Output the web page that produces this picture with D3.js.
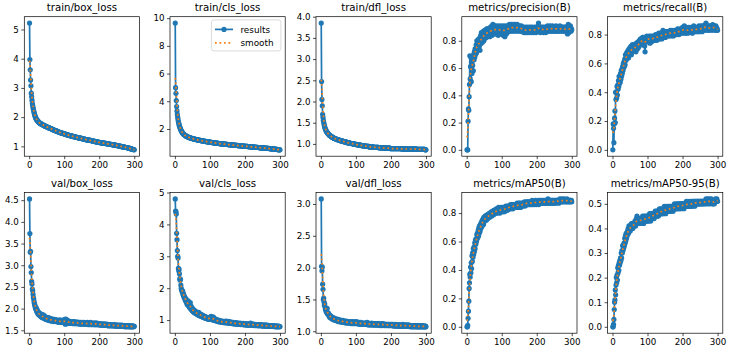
<!DOCTYPE html>
<html>
<head>
<meta charset="utf-8">
<script src="https://cdn.jsdelivr.net/npm/d3@7"></script>
<style>
  body { margin: 0; background: #fff; }
  svg { font-family: "DejaVu Sans", sans-serif; display: block; }
</style>
</head>
<body>
<div id="chart"></div>
<script>

// ---- data: one value per epoch (1..300) ----

var titles = ["train/box_loss", "train/cls_loss", "train/dfl_loss", "metrics/precision(B)", "metrics/recall(B)",
              "val/box_loss", "val/cls_loss", "val/dfl_loss", "metrics/mAP50(B)", "metrics/mAP50-95(B)"];

var xTickLabels = ["0", "100", "200", "300"];

var yTickLabels = [
  ["1", "2", "3", "4", "5"],
  ["2", "4", "6", "8", "10"],
  ["1.0", "1.5", "2.0", "2.5", "3.0", "3.5", "4.0"],
  ["0.0", "0.2", "0.4", "0.6", "0.8"],
  ["0.0", "0.2", "0.4", "0.6", "0.8"],
  ["1.5", "2.0", "2.5", "3.0", "3.5", "4.0", "4.5"],
  ["1", "2", "3", "4", "5"],
  ["1.0", "1.5", "2.0", "2.5", "3.0"],
  ["0.0", "0.2", "0.4", "0.6", "0.8"],
  ["0.0", "0.1", "0.2", "0.3", "0.4", "0.5"]
];

var trainBox = [
  5.22,3.97,3.62,3.27,3.07,2.82,2.70,2.58,2.47,2.40,2.33,2.27,2.21,2.16,2.11,2.07,2.03,2.00,1.97,1.94,
  1.92,1.90,1.89,1.87,1.86,1.85,1.83,1.82,1.81,1.80,1.79,1.78,1.78,1.77,1.76,1.75,1.75,1.74,1.74,1.73,
  1.72,1.72,1.71,1.70,1.70,1.69,1.68,1.68,1.67,1.67,1.66,1.66,1.65,1.65,1.64,1.64,1.63,1.63,1.62,1.62,
  1.61,1.61,1.60,1.60,1.59,1.58,1.58,1.57,1.57,1.56,1.56,1.55,1.55,1.54,1.54,1.53,1.53,1.52,1.52,1.51,
  1.51,1.50,1.50,1.49,1.49,1.48,1.48,1.47,1.47,1.47,1.46,1.46,1.45,1.45,1.45,1.44,1.44,1.44,1.43,1.43,
  1.42,1.42,1.42,1.41,1.41,1.41,1.40,1.40,1.39,1.39,1.39,1.38,1.38,1.38,1.37,1.37,1.37,1.36,1.36,1.36,
  1.35,1.35,1.35,1.34,1.34,1.34,1.33,1.33,1.33,1.33,1.32,1.32,1.32,1.31,1.31,1.31,1.31,1.30,1.30,1.30,
  1.29,1.29,1.29,1.28,1.28,1.28,1.28,1.27,1.27,1.27,1.26,1.26,1.26,1.26,1.25,1.25,1.25,1.25,1.24,1.24,
  1.24,1.23,1.23,1.23,1.23,1.22,1.22,1.22,1.22,1.21,1.21,1.21,1.21,1.20,1.20,1.20,1.20,1.19,1.19,1.19,
  1.18,1.18,1.18,1.18,1.17,1.17,1.17,1.17,1.16,1.16,1.16,1.16,1.15,1.15,1.15,1.15,1.14,1.14,1.14,1.14,
  1.13,1.13,1.13,1.13,1.12,1.12,1.12,1.12,1.12,1.11,1.11,1.11,1.11,1.11,1.10,1.10,1.10,1.10,1.10,1.09,
  1.09,1.09,1.09,1.09,1.08,1.08,1.08,1.08,1.08,1.07,1.07,1.07,1.07,1.07,1.06,1.06,1.06,1.06,1.06,1.05,
  1.05,1.05,1.05,1.04,1.04,1.04,1.04,1.03,1.03,1.03,1.03,1.02,1.02,1.02,1.02,1.01,1.01,1.01,1.01,1.00,
  1.00,1.00,1.00,0.99,0.99,0.99,0.99,0.98,0.98,0.98,0.98,0.97,0.97,0.97,0.97,0.96,0.96,0.96,0.96,0.95,
  0.95,0.95,0.94,0.94,0.94,0.93,0.93,0.93,0.92,0.92,0.92,0.91,0.91,0.90,0.90,0.90,0.89,0.89,0.89,0.88
];

var trainCls = [
  9.65,4.98,4.58,4.05,3.62,3.30,3.05,2.85,2.68,2.54,2.42,2.31,2.22,2.14,2.06,2.00,1.94,1.88,1.83,1.79,
  1.75,1.71,1.68,1.65,1.62,1.60,1.58,1.56,1.54,1.52,1.50,1.49,1.47,1.46,1.45,1.44,1.42,1.41,1.40,1.39,
  1.38,1.37,1.36,1.35,1.35,1.34,1.33,1.32,1.31,1.31,1.30,1.29,1.28,1.28,1.27,1.26,1.26,1.25,1.25,1.24,
  1.23,1.23,1.22,1.22,1.21,1.20,1.20,1.19,1.19,1.18,1.18,1.17,1.17,1.16,1.16,1.15,1.15,1.14,1.14,1.13,
  1.13,1.12,1.12,1.11,1.11,1.10,1.10,1.10,1.09,1.09,1.08,1.08,1.07,1.07,1.07,1.06,1.06,1.05,1.05,1.05,
  1.04,1.04,1.03,1.03,1.03,1.02,1.02,1.01,1.01,1.01,1.00,1.00,0.99,0.99,0.99,0.98,0.98,0.98,0.97,0.97,
  0.97,0.96,0.96,0.96,0.95,0.95,0.95,0.94,0.94,0.94,0.93,0.93,0.93,0.92,0.92,0.92,0.91,0.91,0.91,0.91,
  0.90,0.90,0.90,0.89,0.89,0.89,0.89,0.88,0.88,0.88,0.87,0.87,0.87,0.87,0.86,0.86,0.86,0.86,0.85,0.85,
  0.85,0.85,0.84,0.84,0.84,0.84,0.83,0.83,0.83,0.83,0.82,0.82,0.82,0.82,0.81,0.81,0.81,0.81,0.80,0.80,
  0.80,0.80,0.79,0.79,0.79,0.79,0.78,0.78,0.78,0.78,0.77,0.77,0.77,0.77,0.76,0.76,0.76,0.76,0.75,0.75,
  0.75,0.75,0.74,0.74,0.74,0.74,0.74,0.73,0.73,0.73,0.73,0.72,0.72,0.72,0.72,0.71,0.71,0.71,0.71,0.70,
  0.70,0.70,0.70,0.69,0.69,0.69,0.69,0.69,0.68,0.68,0.68,0.68,0.67,0.67,0.67,0.67,0.66,0.66,0.66,0.66,
  0.65,0.65,0.65,0.65,0.64,0.64,0.64,0.64,0.63,0.63,0.63,0.63,0.62,0.62,0.62,0.62,0.61,0.61,0.61,0.61,
  0.60,0.60,0.60,0.60,0.59,0.59,0.59,0.59,0.58,0.58,0.58,0.58,0.57,0.57,0.57,0.57,0.56,0.56,0.56,0.56,
  0.55,0.55,0.55,0.54,0.54,0.54,0.53,0.53,0.53,0.52,0.52,0.52,0.51,0.51,0.51,0.50,0.50,0.50,0.49,0.49
];

var trainDfl = [
  3.85,2.47,2.05,1.90,1.70,1.63,1.56,1.51,1.47,1.43,1.40,1.37,1.35,1.33,1.31,1.29,1.28,1.27,1.26,1.25,
  1.24,1.23,1.22,1.21,1.20,1.20,1.19,1.18,1.18,1.17,1.17,1.16,1.16,1.15,1.15,1.14,1.14,1.13,1.13,1.13,
  1.12,1.12,1.12,1.11,1.11,1.11,1.10,1.10,1.10,1.10,1.09,1.09,1.09,1.08,1.08,1.08,1.08,1.07,1.07,1.07,
  1.07,1.06,1.06,1.06,1.06,1.05,1.05,1.05,1.05,1.05,1.04,1.04,1.04,1.04,1.03,1.03,1.03,1.03,1.03,1.02,
  1.02,1.02,1.02,1.02,1.01,1.01,1.01,1.01,1.01,1.01,1.00,1.00,1.00,1.00,1.00,0.99,0.99,0.99,0.99,0.99,
  0.99,0.98,0.98,0.98,0.98,0.98,0.98,0.97,0.97,0.97,0.97,0.97,0.97,0.97,0.96,0.96,0.96,0.96,0.96,0.96,
  0.96,0.95,0.95,0.95,0.95,0.95,0.95,0.95,0.95,0.94,0.94,0.94,0.94,0.94,0.94,0.94,0.94,0.93,0.93,0.93,
  0.93,0.93,0.93,0.93,0.93,0.93,0.93,0.93,0.93,0.92,0.92,0.92,0.92,0.92,0.92,0.92,0.92,0.92,0.92,0.92,
  0.92,0.92,0.92,0.92,0.91,0.91,0.91,0.91,0.91,0.91,0.91,0.91,0.91,0.91,0.91,0.91,0.91,0.91,0.90,0.90,
  0.90,0.90,0.90,0.90,0.90,0.90,0.90,0.90,0.90,0.90,0.90,0.90,0.90,0.90,0.90,0.90,0.90,0.89,0.89,0.89,
  0.89,0.89,0.89,0.89,0.89,0.89,0.89,0.89,0.89,0.89,0.89,0.89,0.89,0.89,0.89,0.89,0.89,0.89,0.89,0.89,
  0.89,0.89,0.89,0.89,0.89,0.89,0.89,0.89,0.89,0.89,0.88,0.88,0.88,0.88,0.88,0.88,0.88,0.88,0.88,0.88,
  0.88,0.88,0.88,0.88,0.88,0.88,0.88,0.88,0.88,0.88,0.88,0.88,0.88,0.88,0.88,0.88,0.88,0.88,0.88,0.88,
  0.88,0.88,0.88,0.88,0.88,0.88,0.88,0.88,0.88,0.88,0.88,0.88,0.88,0.87,0.87,0.87,0.87,0.87,0.87,0.87,
  0.87,0.87,0.87,0.87,0.87,0.87,0.87,0.87,0.87,0.87,0.87,0.87,0.87,0.87,0.87,0.87,0.87,0.86,0.86,0.86
];

var precision = [
  0.00,0.00,0.00,0.21,0.30,0.29,0.39,0.48,0.69,0.52,0.61,0.68,0.50,0.63,0.56,0.66,0.62,0.67,0.58,0.70,
  0.66,0.72,0.68,0.74,0.70,0.73,0.77,0.71,0.80,0.75,0.78,0.74,0.81,0.77,0.79,0.76,0.82,0.73,0.80,0.84,
  0.78,0.86,0.81,0.83,0.79,0.85,0.82,0.87,0.80,0.84,0.86,0.83,0.88,0.82,0.85,0.87,0.84,0.89,0.83,0.86,
  0.88,0.84,0.87,0.85,0.89,0.83,0.87,0.90,0.85,0.88,0.86,0.91,0.84,0.89,0.92,0.86,0.88,0.90,0.85,0.91,
  0.87,0.89,0.86,0.91,0.88,0.85,0.90,0.87,0.89,0.84,0.91,0.88,0.86,0.90,0.87,0.89,0.85,0.91,0.88,0.86,
  0.90,0.87,0.89,0.84,0.91,0.88,0.86,0.90,0.83,0.89,0.87,0.91,0.85,0.89,0.88,0.90,0.86,0.91,0.88,0.89,
  0.87,0.92,0.89,0.88,0.91,0.87,0.90,0.92,0.88,0.91,0.89,0.87,0.92,0.90,0.88,0.91,0.89,0.92,0.87,0.90,
  0.89,0.91,0.88,0.92,0.90,0.87,0.91,0.89,0.88,0.90,0.91,0.87,0.89,0.90,0.88,0.91,0.87,0.89,0.90,0.88,
  0.87,0.89,0.86,0.90,0.88,0.87,0.89,0.86,0.88,0.90,0.87,0.88,0.86,0.89,0.87,0.90,0.88,0.86,0.89,0.87,
  0.88,0.90,0.87,0.89,0.86,0.88,0.90,0.87,0.89,0.88,0.86,0.89,0.87,0.90,0.88,0.87,0.89,0.86,0.88,0.90,
  0.87,0.89,0.88,0.91,0.93,0.88,0.87,0.90,0.88,0.86,0.89,0.87,0.90,0.88,0.89,0.87,0.90,0.88,0.86,0.89,
  0.88,0.90,0.87,0.89,0.88,0.86,0.90,0.88,0.89,0.87,0.91,0.88,0.89,0.87,0.90,0.88,0.89,0.91,0.87,0.89,
  0.88,0.90,0.89,0.87,0.91,0.88,0.89,0.90,0.87,0.89,0.88,0.90,0.87,0.89,0.91,0.88,0.89,0.87,0.90,0.88,
  0.89,0.87,0.90,0.88,0.89,0.91,0.88,0.87,0.90,0.89,0.88,0.90,0.87,0.89,0.88,0.90,0.89,0.87,0.88,0.90,
  0.88,0.89,0.87,0.90,0.88,0.86,0.89,0.85,0.91,0.92,0.88,0.86,0.90,0.87,0.89,0.91,0.88,0.87,0.89,0.88
];

var recall = [
  0.00,0.18,0.15,0.05,0.18,0.22,0.27,0.19,0.40,0.35,0.40,0.36,0.44,0.38,0.45,0.42,0.48,0.44,0.51,0.46,
  0.50,0.47,0.53,0.49,0.55,0.51,0.56,0.53,0.58,0.55,0.60,0.57,0.61,0.58,0.63,0.59,0.66,0.62,0.64,0.67,
  0.63,0.68,0.65,0.66,0.69,0.64,0.70,0.66,0.68,0.71,0.67,0.69,0.72,0.66,0.70,0.68,0.73,0.69,0.71,0.70,
  0.72,0.69,0.71,0.73,0.70,0.72,0.68,0.74,0.71,0.73,0.70,0.72,0.75,0.71,0.74,0.72,0.76,0.73,0.75,0.77,
  0.74,0.76,0.73,0.77,0.75,0.78,0.74,0.76,0.78,0.75,0.77,0.72,0.68,0.76,0.78,0.75,0.77,0.79,0.76,0.78,
  0.77,0.75,0.78,0.76,0.79,0.77,0.74,0.78,0.76,0.79,0.77,0.75,0.78,0.76,0.79,0.77,0.78,0.76,0.79,0.77,
  0.78,0.76,0.80,0.77,0.79,0.78,0.76,0.80,0.78,0.77,0.79,0.81,0.78,0.80,0.77,0.79,0.81,0.78,0.80,0.79,
  0.77,0.81,0.79,0.83,0.80,0.78,0.81,0.79,0.82,0.80,0.78,0.81,0.79,0.82,0.80,0.81,0.79,0.82,0.80,0.81,
  0.79,0.82,0.80,0.81,0.83,0.80,0.82,0.79,0.81,0.83,0.80,0.82,0.81,0.79,0.82,0.80,0.83,0.81,0.82,0.80,
  0.82,0.81,0.83,0.80,0.82,0.84,0.81,0.83,0.82,0.80,0.83,0.81,0.84,0.82,0.83,0.81,0.84,0.82,0.83,0.85,
  0.82,0.84,0.83,0.81,0.86,0.83,0.82,0.84,0.81,0.83,0.85,0.82,0.84,0.83,0.81,0.84,0.82,0.85,0.83,0.82,
  0.84,0.82,0.83,0.85,0.82,0.84,0.83,0.81,0.85,0.83,0.84,0.86,0.82,0.84,0.83,0.85,0.82,0.84,0.83,0.85,
  0.83,0.84,0.82,0.85,0.84,0.83,0.86,0.82,0.84,0.85,0.83,0.84,0.86,0.83,0.85,0.82,0.84,0.86,0.83,0.85,
  0.84,0.86,0.83,0.85,0.87,0.84,0.88,0.85,0.83,0.86,0.84,0.85,0.83,0.86,0.84,0.85,0.83,0.86,0.85,0.84,
  0.85,0.83,0.86,0.84,0.85,0.87,0.84,0.86,0.83,0.85,0.86,0.84,0.85,0.83,0.86,0.84,0.85,0.83,0.84,0.83
];

var valBox = [
  4.53,3.73,3.30,3.32,2.97,2.83,2.63,2.57,2.45,2.41,2.33,2.26,2.22,2.16,2.12,2.08,2.05,2.01,1.99,2.02,
  1.95,1.93,1.97,1.90,1.91,1.87,1.92,1.86,1.88,1.84,1.89,1.83,1.86,1.81,1.85,1.80,1.83,1.79,1.86,1.80,
  1.82,1.78,1.84,1.77,1.80,1.76,1.81,1.75,1.79,1.77,1.74,1.78,1.75,1.77,1.73,1.79,1.74,1.76,1.72,1.75,
  1.73,1.77,1.72,1.75,1.71,1.74,1.76,1.72,1.74,1.70,1.73,1.75,1.71,1.74,1.72,1.70,1.73,1.71,1.74,1.70,
  1.72,1.69,1.73,1.71,1.68,1.72,1.70,1.74,1.69,1.71,1.68,1.72,1.70,1.69,1.73,1.70,1.68,1.71,1.69,1.72,
  1.75,1.70,1.64,1.72,1.76,1.68,1.71,1.65,1.70,1.73,1.67,1.69,1.71,1.66,1.70,1.68,1.67,1.70,1.66,1.69,
  1.68,1.70,1.66,1.69,1.67,1.65,1.69,1.67,1.70,1.66,1.68,1.65,1.69,1.67,1.66,1.68,1.65,1.69,1.66,1.67,
  1.68,1.65,1.67,1.64,1.68,1.66,1.65,1.67,1.64,1.68,1.66,1.65,1.67,1.64,1.66,1.68,1.65,1.67,1.64,1.66,
  1.65,1.67,1.64,1.66,1.65,1.68,1.64,1.66,1.65,1.63,1.67,1.65,1.64,1.66,1.68,1.64,1.65,1.63,1.66,1.64,
  1.66,1.64,1.65,1.67,1.63,1.65,1.64,1.66,1.63,1.65,1.67,1.64,1.63,1.65,1.64,1.66,1.63,1.64,1.65,1.63,
  1.64,1.62,1.65,1.63,1.64,1.62,1.65,1.63,1.62,1.64,1.63,1.61,1.64,1.62,1.63,1.65,1.62,1.63,1.61,1.63,
  1.62,1.64,1.61,1.63,1.62,1.60,1.63,1.62,1.61,1.63,1.62,1.60,1.62,1.61,1.63,1.61,1.62,1.60,1.62,1.61,
  1.62,1.60,1.61,1.63,1.60,1.62,1.61,1.59,1.62,1.60,1.61,1.62,1.60,1.61,1.59,1.62,1.60,1.61,1.60,1.62,
  1.60,1.61,1.59,1.60,1.62,1.60,1.59,1.61,1.60,1.59,1.61,1.60,1.58,1.60,1.61,1.59,1.60,1.58,1.60,1.59,
  1.60,1.59,1.58,1.60,1.59,1.61,1.58,1.59,1.60,1.58,1.59,1.60,1.58,1.59,1.58,1.60,1.59,1.58,1.59,1.59
];

var valCls = [
  4.80,4.42,4.40,4.33,3.72,3.52,3.18,3.00,2.95,2.62,2.55,2.60,2.45,2.30,2.25,2.28,2.10,2.00,1.95,1.93,
  1.88,1.92,1.80,1.85,1.75,1.78,1.70,1.72,1.64,1.68,1.60,1.66,1.55,1.58,1.50,1.56,1.47,1.60,1.45,1.52,
  1.42,1.49,1.38,1.55,1.36,1.44,1.33,1.40,1.30,1.37,1.28,1.34,1.26,1.32,1.24,1.30,1.23,1.28,1.21,1.26,
  1.20,1.25,1.19,1.23,1.17,1.22,1.16,1.24,1.15,1.20,1.14,1.18,1.13,1.19,1.12,1.17,1.11,1.15,1.10,1.14,
  1.09,1.13,1.08,1.12,1.07,1.11,1.06,1.10,1.08,1.05,1.09,1.04,1.08,1.06,1.03,1.07,1.05,1.02,1.06,1.04,
  1.08,1.03,1.12,1.05,1.02,1.09,1.01,1.06,1.10,1.00,1.04,1.07,0.99,1.03,1.00,0.98,1.02,0.99,0.97,1.01,
  0.98,0.96,1.00,0.97,0.95,0.99,0.96,0.94,0.98,0.95,0.97,0.94,0.96,0.93,0.97,0.95,0.93,0.96,0.94,0.92,
  0.95,0.93,0.96,0.92,0.94,0.97,0.93,0.91,0.95,0.92,0.94,0.96,0.92,0.90,0.93,0.95,0.91,0.93,0.90,0.92,
  0.94,0.91,0.89,0.92,0.90,0.93,0.89,0.91,0.88,0.92,0.90,0.88,0.91,0.89,0.92,0.88,0.90,0.87,0.91,0.89,
  0.88,0.90,0.87,0.89,0.91,0.87,0.89,0.86,0.90,0.88,0.87,0.89,0.86,0.88,0.90,0.86,0.88,0.87,0.85,0.88,
  0.86,0.89,0.85,0.87,0.86,0.88,0.85,0.87,0.84,0.86,0.88,0.85,0.87,0.84,0.86,0.91,0.88,0.85,0.87,0.84,
  0.86,0.88,0.85,0.84,0.87,0.85,0.83,0.86,0.84,0.87,0.83,0.85,0.84,0.86,0.83,0.85,0.84,0.82,0.85,0.83,
  0.84,0.86,0.83,0.85,0.82,0.84,0.83,0.85,0.82,0.84,0.83,0.81,0.84,0.82,0.83,0.85,0.82,0.83,0.81,0.84,
  0.82,0.83,0.81,0.84,0.82,0.80,0.83,0.82,0.81,0.83,0.82,0.80,0.82,0.81,0.83,0.80,0.82,0.81,0.80,0.82,
  0.81,0.80,0.82,0.80,0.81,0.79,0.82,0.80,0.81,0.79,0.81,0.80,0.79,0.81,0.80,0.79,0.81,0.80,0.79,0.80
];

var valDfl = [
  3.08,2.02,1.95,2.01,1.74,1.66,1.50,1.52,1.46,1.41,1.43,1.38,1.34,1.36,1.31,1.33,1.29,1.36,1.28,1.27,
  1.29,1.25,1.27,1.24,1.22,1.25,1.23,1.21,1.24,1.21,1.20,1.22,1.19,1.21,1.20,1.18,1.21,1.19,1.18,1.20,
  1.18,1.17,1.19,1.17,1.18,1.16,1.19,1.17,1.16,1.18,1.15,1.17,1.16,1.18,1.15,1.16,1.17,1.15,1.16,1.14,
  1.16,1.15,1.17,1.14,1.16,1.15,1.14,1.16,1.15,1.13,1.15,1.14,1.16,1.13,1.15,1.14,1.13,1.15,1.14,1.13,
  1.14,1.13,1.15,1.13,1.14,1.12,1.14,1.13,1.15,1.12,1.13,1.14,1.12,1.13,1.15,1.12,1.14,1.13,1.12,1.14,
  1.13,1.15,1.12,1.13,1.14,1.12,1.13,1.11,1.14,1.12,1.13,1.11,1.12,1.14,1.11,1.13,1.12,1.11,1.13,1.12,
  1.11,1.13,1.12,1.11,1.13,1.12,1.11,1.12,1.13,1.11,1.12,1.14,1.11,1.12,1.10,1.13,1.11,1.12,1.10,1.12,
  1.11,1.12,1.10,1.11,1.13,1.11,1.10,1.12,1.11,1.10,1.12,1.11,1.10,1.12,1.10,1.11,1.12,1.10,1.11,1.10,
  1.12,1.10,1.11,1.10,1.12,1.11,1.10,1.11,1.09,1.11,1.10,1.12,1.10,1.11,1.09,1.11,1.10,1.12,1.10,1.11,
  1.10,1.09,1.11,1.10,1.11,1.09,1.10,1.11,1.10,1.09,1.11,1.10,1.09,1.11,1.10,1.09,1.10,1.11,1.09,1.10,
  1.11,1.09,1.10,1.09,1.11,1.10,1.09,1.10,1.08,1.10,1.09,1.11,1.09,1.10,1.09,1.08,1.10,1.09,1.10,1.08,
  1.10,1.09,1.08,1.10,1.09,1.08,1.10,1.09,1.08,1.09,1.10,1.08,1.09,1.11,1.08,1.09,1.10,1.08,1.09,1.08,
  1.09,1.10,1.08,1.09,1.08,1.10,1.09,1.08,1.09,1.08,1.10,1.09,1.08,1.09,1.07,1.09,1.08,1.09,1.08,1.07,
  1.09,1.08,1.07,1.09,1.08,1.09,1.07,1.08,1.09,1.08,1.07,1.09,1.08,1.07,1.08,1.09,1.07,1.08,1.07,1.08,
  1.09,1.07,1.08,1.07,1.09,1.08,1.07,1.08,1.07,1.08,1.09,1.07,1.08,1.07,1.08,1.07,1.08,1.07,1.08,1.07
];

var map50 = [
  0.00,0.00,0.01,0.06,0.11,0.18,0.27,0.31,0.37,0.35,0.42,0.38,0.45,0.41,0.50,0.46,0.52,0.49,0.55,0.51,
  0.56,0.53,0.59,0.55,0.61,0.58,0.62,0.60,0.65,0.62,0.66,0.63,0.68,0.64,0.70,0.66,0.71,0.67,0.72,0.69,
  0.73,0.70,0.74,0.71,0.75,0.73,0.76,0.72,0.77,0.74,0.76,0.75,0.78,0.76,0.77,0.75,0.78,0.77,0.79,0.76,
  0.78,0.77,0.79,0.78,0.80,0.77,0.79,0.78,0.80,0.79,0.81,0.78,0.80,0.79,0.81,0.80,0.82,0.79,0.81,0.80,
  0.82,0.80,0.81,0.83,0.80,0.82,0.81,0.83,0.80,0.82,0.84,0.81,0.83,0.82,0.80,0.83,0.82,0.84,0.81,0.83,
  0.82,0.84,0.81,0.83,0.82,0.84,0.83,0.81,0.84,0.82,0.83,0.85,0.82,0.84,0.83,0.85,0.82,0.84,0.83,0.85,
  0.84,0.83,0.85,0.84,0.86,0.83,0.85,0.84,0.86,0.84,0.85,0.83,0.86,0.85,0.84,0.86,0.85,0.84,0.86,0.85,
  0.84,0.86,0.85,0.87,0.85,0.84,0.86,0.85,0.87,0.86,0.85,0.87,0.86,0.84,0.86,0.85,0.87,0.86,0.85,0.87,
  0.86,0.85,0.87,0.86,0.88,0.86,0.85,0.87,0.86,0.88,0.87,0.86,0.88,0.87,0.86,0.88,0.87,0.86,0.88,0.87,
  0.86,0.88,0.87,0.86,0.88,0.87,0.89,0.87,0.86,0.88,0.87,0.88,0.86,0.88,0.87,0.89,0.87,0.88,0.86,0.88,
  0.87,0.88,0.87,0.89,0.88,0.86,0.88,0.87,0.89,0.88,0.87,0.88,0.89,0.87,0.88,0.87,0.89,0.88,0.87,0.88,
  0.89,0.87,0.88,0.87,0.89,0.88,0.87,0.89,0.88,0.87,0.88,0.90,0.88,0.87,0.89,0.88,0.87,0.89,0.88,0.89,
  0.88,0.87,0.89,0.88,0.89,0.87,0.88,0.89,0.88,0.87,0.89,0.88,0.89,0.88,0.87,0.89,0.88,0.89,0.88,0.89,
  0.88,0.89,0.87,0.89,0.88,0.90,0.88,0.89,0.88,0.89,0.88,0.90,0.89,0.88,0.89,0.88,0.89,0.90,0.88,0.89,
  0.89,0.88,0.89,0.88,0.89,0.90,0.88,0.89,0.88,0.89,0.88,0.89,0.88,0.89,0.89,0.88,0.89,0.88,0.89,0.88
];

var map5095 = [
  0.00,0.00,0.01,0.03,0.07,0.10,0.11,0.15,0.13,0.17,0.20,0.18,0.21,0.19,0.24,0.22,0.25,0.23,0.26,0.25,
  0.27,0.26,0.28,0.27,0.30,0.28,0.31,0.30,0.33,0.31,0.33,0.32,0.34,0.33,0.36,0.34,0.37,0.35,0.38,0.36,
  0.38,0.37,0.39,0.38,0.40,0.38,0.41,0.39,0.40,0.41,0.39,0.41,0.40,0.42,0.40,0.41,0.42,0.40,0.41,0.42,
  0.41,0.42,0.41,0.43,0.42,0.41,0.43,0.44,0.42,0.45,0.43,0.42,0.44,0.43,0.42,0.44,0.43,0.44,0.42,0.44,
  0.43,0.44,0.42,0.44,0.43,0.45,0.43,0.44,0.42,0.44,0.45,0.43,0.44,0.43,0.45,0.44,0.43,0.45,0.44,0.43,
  0.45,0.44,0.43,0.45,0.44,0.46,0.44,0.45,0.43,0.45,0.46,0.44,0.45,0.46,0.44,0.46,0.45,0.46,0.44,0.46,
  0.45,0.47,0.45,0.46,0.45,0.47,0.46,0.45,0.47,0.46,0.45,0.47,0.46,0.48,0.46,0.47,0.46,0.48,0.47,0.46,
  0.47,0.46,0.48,0.47,0.46,0.48,0.47,0.49,0.47,0.48,0.47,0.46,0.48,0.47,0.49,0.48,0.47,0.48,0.47,0.49,
  0.48,0.47,0.48,0.49,0.47,0.48,0.49,0.48,0.47,0.49,0.48,0.49,0.47,0.48,0.49,0.48,0.50,0.48,0.49,0.48,
  0.49,0.48,0.50,0.49,0.48,0.49,0.50,0.48,0.49,0.50,0.49,0.48,0.50,0.49,0.50,0.48,0.49,0.50,0.49,0.50,
  0.49,0.50,0.49,0.48,0.50,0.49,0.50,0.49,0.50,0.49,0.51,0.49,0.50,0.49,0.50,0.51,0.49,0.50,0.49,0.50,
  0.50,0.49,0.51,0.50,0.49,0.50,0.51,0.50,0.49,0.50,0.51,0.50,0.51,0.50,0.49,0.51,0.50,0.51,0.50,0.51,
  0.50,0.51,0.50,0.51,0.50,0.51,0.50,0.51,0.50,0.51,0.50,0.51,0.50,0.51,0.51,0.50,0.51,0.50,0.51,0.51,
  0.50,0.51,0.51,0.50,0.51,0.51,0.52,0.51,0.50,0.51,0.51,0.52,0.51,0.50,0.51,0.51,0.52,0.51,0.50,0.51,
  0.51,0.52,0.51,0.51,0.50,0.51,0.51,0.50,0.51,0.51,0.50,0.51,0.51,0.52,0.51,0.51,0.51,0.52,0.51,0.51
];

var series = [trainBox, trainCls, trainDfl, precision, recall, valBox, valCls, valDfl, map50, map5095];

// ---- layout ----
var W = 731, H = 353;
var colLeft = [24.3, 170, 316, 461.8, 607.6], axW = 115.2;
var rowTop = [16.7, 192.5], rowBottom = [156.2, 333.2];

var blue = "#1f77b4", orange = "#ff7f0e";
var lw = 1.7, dotR = 2.6;

// gaussian_filter1d(y, sigma=3), reflect mode, like the smooth curve in the original
function gaussSmooth(y, sigma) {
  var rad = Math.round(4 * sigma), w = [], s = 0;
  for (var k = -rad; k <= rad; k++) {
    var v = Math.exp(-0.5 * k * k / (sigma * sigma));
    w.push(v); s += v;
  }
  w = w.map(function(v) { return v / s; });
  var n = y.length;
  return y.map(function(_, i) {
    var acc = 0;
    for (var k = -rad; k <= rad; k++) {
      var j = i + k;
      if (j < 0) j = -j - 1;
      if (j >= n) j = 2 * n - j - 1;
      acc += w[k + rad] * y[j];
    }
    return acc;
  });
}

var svg = d3.select("#chart").append("svg")
  .attr("width", W)
  .attr("height", H);

svg.append("rect").attr("width", W).attr("height", H).attr("fill", "#fff");

series.forEach(function(vals, i) {
  var col = i % 5, row = Math.floor(i / 5);
  var left = colLeft[col], top = rowTop[row], bottom = rowBottom[row];
  var epochs = d3.range(1, vals.length + 1);
  var smooth = gaussSmooth(vals, 3);

  var lo = Math.min(d3.min(vals), d3.min(smooth));
  var hi = Math.max(d3.max(vals), d3.max(smooth));
  var pad = (hi - lo) * 0.05;
  var xpad = (epochs.length - 1) * 0.05;

  var x = d3.scaleLinear()
    .domain([1 - xpad, epochs.length + xpad])
    .range([left, left + axW]);
  var y = d3.scaleLinear()
    .domain([lo - pad, hi + pad])
    .range([bottom, top]);

  var g = svg.append("g");

  var pts = epochs.map(function(e, k) { return [e, vals[k], smooth[k]]; });

  var line = d3.line()
    .x(function(d) { return x(d[0]); })
    .y(function(d) { return y(d[1]); });
  var sline = d3.line()
    .x(function(d) { return x(d[0]); })
    .y(function(d) { return y(d[2]); });

  g.append("path")
    .attr("d", line(pts))
    .attr("fill", "none")
    .attr("stroke", blue)
    .attr("stroke-width", lw)
    .attr("stroke-linejoin", "round");

  g.selectAll("circle.dot")
    .data(pts)
    .enter().append("circle")
    .attr("class", "dot")
    .attr("cx", function(d) { return x(d[0]); })
    .attr("cy", function(d) { return y(d[1]); })
    .attr("r", dotR)
    .attr("fill", blue);

  g.append("path")
    .attr("d", sline(pts))
    .attr("fill", "none")
    .attr("stroke", orange)
    .attr("stroke-width", lw)
    .attr("stroke-dasharray", "1.7,2.8");

  // axes
  var xAxis = d3.axisBottom(x)
    .tickValues(xTickLabels.map(Number))
    .tickFormat(function(d, k) { return xTickLabels[k]; })
    .tickSize(3).tickPadding(2.5);
  var yAxis = d3.axisLeft(y)
    .tickValues(yTickLabels[i].map(Number))
    .tickFormat(function(d, k) { return yTickLabels[i][k]; })
    .tickSize(3).tickPadding(2.5);

  var gx = svg.append("g").attr("transform", "translate(0," + bottom + ")").call(xAxis);
  var gy = svg.append("g").attr("transform", "translate(" + left + ",0)").call(yAxis);
  [gx, gy].forEach(function(a) {
    a.select(".domain").remove();
    a.selectAll(".tick line").attr("stroke", "#000").attr("stroke-width", 0.7);
    a.selectAll(".tick text").attr("fill", "#000").style("font-size", "8.7px")
      .style("font-family", "DejaVu Sans");
  });

  svg.append("rect")
    .attr("x", left).attr("y", top)
    .attr("width", axW).attr("height", bottom - top)
    .attr("fill", "none")
    .attr("stroke", "#000")
    .attr("stroke-width", 0.7);

  svg.append("text")
    .attr("x", left + axW / 2)
    .attr("y", top - 6)
    .attr("text-anchor", "middle")
    .style("font-size", "10.2px")
    .style("fill", "#000")
    .text(titles[i]);

  // legend sits in the second panel, upper right
  if (i === 1) {
    var lgW = 69.5, lgH = 31;
    var lg = svg.append("g")
      .attr("transform", "translate(" + (left + axW - 4.3 - lgW) + "," + (top + 3.2) + ")");
    lg.append("rect")
      .attr("width", lgW).attr("height", lgH)
      .attr("rx", 2.5)
      .attr("fill", "#fff").attr("fill-opacity", 0.8)
      .attr("stroke", "#ccc").attr("stroke-width", 0.7);
    var entries = [
      { label: "results", color: blue, dash: null, marker: true },
      { label: "smooth", color: orange, dash: "1.7,2.8", marker: false }
    ];
    entries.forEach(function(en, k) {
      var cy = 9.5 + k * 13.5;
      lg.append("line")
        .attr("x1", 3.6).attr("x2", 21.6)
        .attr("y1", cy).attr("y2", cy)
        .attr("stroke", en.color)
        .attr("stroke-width", lw)
        .attr("stroke-dasharray", en.dash);
      if (en.marker) {
        lg.append("circle").attr("cx", 12.6).attr("cy", cy).attr("r", dotR).attr("fill", en.color);
      }
      lg.append("text")
        .attr("x", 29)
        .attr("y", cy + 3.2)
        .style("font-size", "8.9px")
        .style("fill", "#000")
        .text(en.label);
    });
  }
});

</script>
</body>
</html>
